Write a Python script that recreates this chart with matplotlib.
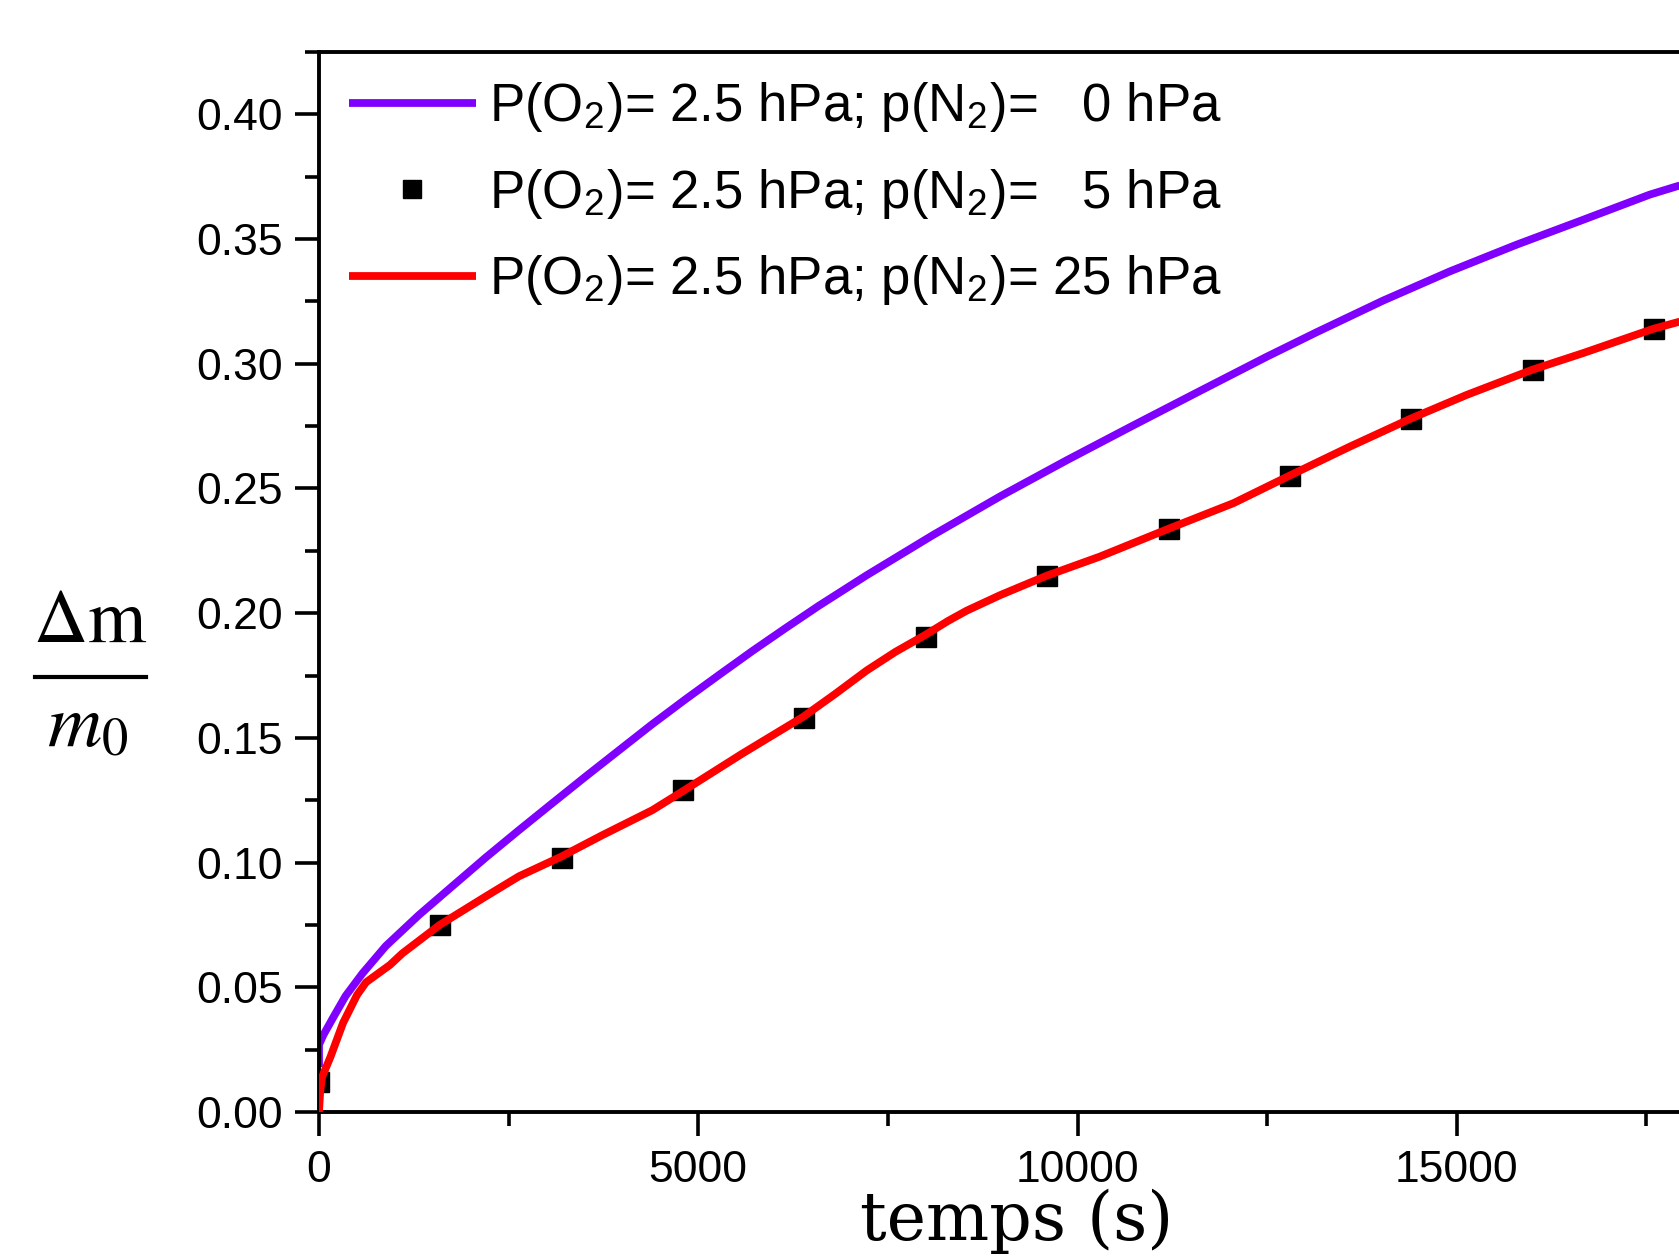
import matplotlib
matplotlib.use("Agg")
import matplotlib.pyplot as plt
from matplotlib.lines import Line2D
from matplotlib.ticker import MultipleLocator, FormatStrFormatter

# ---- data ----
t_0hPa = [0, 0, 60, 189, 350, 571, 879, 1318, 1757, 2197, 2636, 3076, 3515, 3954,
          4394, 4833, 5272, 5712, 6151, 6591, 7220, 8099, 8978, 9857, 10736, 11615,
          12494, 13149, 14027, 14906, 15785, 16664, 17543, 17940]
m_0hPa = [0.018, 0.027, 0.031, 0.038, 0.0465, 0.0555, 0.0665, 0.0790, 0.0905, 0.1020,
          0.1130, 0.1238, 0.1345, 0.1450, 0.1555, 0.1655, 0.1752, 0.1848, 0.1940, 0.2030,
          0.2152, 0.2314, 0.2468, 0.2613, 0.2753, 0.2891, 0.3028, 0.3126, 0.3253, 0.3370,
          0.3477, 0.3577, 0.3678, 0.3715]

t_5hPa = [0, 1600, 3200, 4800, 6400, 8000, 9600, 11200, 12800, 14400, 16000, 17600]
m_5hPa = [0.012, 0.075, 0.1018, 0.129, 0.158, 0.1906, 0.2151, 0.2337, 0.2551, 0.278,
          0.2976, 0.314]

t_25hPa = [0, 15, 40, 150, 317, 501, 620, 937, 1099, 1591, 2197, 2636, 3195, 3736, 4394,
           4790, 5581, 6386, 6800, 7220, 7600, 7989, 8300, 8539, 8978, 9300, 9593, 10296,
           11188, 12055, 12793, 13592, 14392, 15130, 15995, 16668, 17590, 17940]
m_25hPa = [0.0, 0.008, 0.014, 0.022, 0.0357, 0.0469, 0.052, 0.059, 0.0636, 0.075, 0.0864,
           0.0945, 0.1024, 0.1110, 0.1210, 0.1285, 0.1437, 0.1585, 0.1675, 0.1770, 0.1845,
           0.1912, 0.1970, 0.2010, 0.2072, 0.2113, 0.2150, 0.2227, 0.2337, 0.2441, 0.2551,
           0.2668, 0.2780, 0.2875, 0.2976, 0.3043, 0.3140, 0.3169]

labels = [r'P(O$_\mathregular{2}$)= 2.5 hPa; p(N$_\mathregular{2}$)=   0 hPa',
          r'P(O$_\mathregular{2}$)= 2.5 hPa; p(N$_\mathregular{2}$)=   5 hPa',
          r'P(O$_\mathregular{2}$)= 2.5 hPa; p(N$_\mathregular{2}$)= 25 hPa']

plt.rcParams['font.family'] = ['Liberation Sans', 'DejaVu Sans']
plt.rcParams['mathtext.fontset'] = 'stix'

W, H = 1679, 1260
fig = plt.figure(figsize=(W / 100, H / 100), dpi=100)
x0, y0, y1 = 319, 1112, 52
ax = fig.add_axes([x0 / W, 1 - y0 / H, 1 - x0 / W, (y0 - y1) / H])

ax.plot(t_0hPa, m_0hPa, color='#8000ff', lw=5.6, solid_capstyle='butt',
        solid_joinstyle='round', zorder=2, label=labels[0])
ax.plot(t_5hPa, m_5hPa, ls='none', marker='s', ms=14, color='black', zorder=3,
        label=labels[1])
ax.plot(t_25hPa, m_25hPa, color='#ff0000', lw=5.6, solid_capstyle='butt',
        solid_joinstyle='round', zorder=4, label=labels[2])

ax.set_xlim(0, 17930)
ax.set_ylim(0, 0.425)

ax.xaxis.set_major_locator(MultipleLocator(5000))
ax.xaxis.set_minor_locator(MultipleLocator(2500))
ax.yaxis.set_major_locator(MultipleLocator(0.05))
ax.yaxis.set_minor_locator(MultipleLocator(0.025))
ax.yaxis.set_major_formatter(FormatStrFormatter('%.2f'))

for s in ['left', 'bottom', 'top']:
    ax.spines[s].set_linewidth(2.8)
ax.spines['right'].set_visible(False)

ax.tick_params(which='major', direction='out', length=17, width=2.6, labelsize=32)
ax.tick_params(which='minor', direction='out', length=10, width=2.6)
ax.tick_params(axis='y', which='major', pad=9)
ax.tick_params(axis='x', which='major', pad=10)
ax.tick_params(top=False, right=False, which='both')

leg = ax.legend(loc='upper left', bbox_to_anchor=(349 / W, 1 - 80 / H),
                bbox_transform=fig.transFigure, frameon=False, fontsize=38,
                handlelength=2.4, handletextpad=0.26, borderpad=0, borderaxespad=0,
                labelspacing=0.62, markerscale=0.9)

fig.text(1017 / W, 1 - 1240 / H, 'temps (s)', family='DejaVu Serif', fontsize=48,
         ha='center', va='baseline')

# y-axis label drawn as a fraction: numerator, bar, denominator
fig.text(90 / W, 1 - 642 / H, r'$\Delta\mathrm{m}$', fontsize=54,
         ha='center', va='baseline')
fig.add_artist(Line2D([35 / W, 146 / W], [1 - 677 / H, 1 - 677 / H],
                      transform=fig.transFigure, color='black', lw=3.0))
fig.text(88 / W, 1 - 747 / H, r'$m_0$', fontsize=54, ha='center', va='baseline')

fig.savefig('out.png', dpi=100)
